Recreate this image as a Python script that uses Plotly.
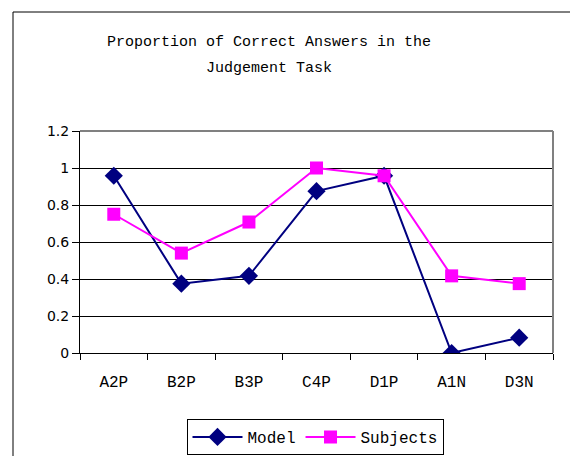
import plotly.graph_objects as go

categories = ["A2P", "B2P", "B3P", "C4P", "D1P", "A1N", "D3N"]
model = [0.958, 0.375, 0.417, 0.875, 0.958, 0.0, 0.083]
subjects = [0.75, 0.54, 0.708, 1.0, 0.958, 0.417, 0.375]
ytick_vals = [0, 0.2, 0.4, 0.6, 0.8, 1.0, 1.2]
ytick_text = ["0", "0.2", "0.4", "0.6", "0.8", "1", "1.2"]
title_lines = ["Proportion of Correct Answers in the", "Judgement Task"]

fig = go.Figure()
fig.add_trace(go.Scatter(
    x=categories, y=model, name="Model", mode="lines+markers",
    line=dict(color="#000080", width=2),
    marker=dict(symbol="diamond", size=14, color="#000080"),
))
fig.add_trace(go.Scatter(
    x=categories, y=subjects, name="Subjects", mode="lines+markers",
    line=dict(color="#FF00FF", width=2),
    marker=dict(symbol="square", size=13, color="#FF00FF"),
))

W, H = 570, 456
L, R, T, B = 80, 17, 131, 103
pw, ph = W - L - R, H - T - B

def px_x(p):
    return (p - L) / pw

def px_y(p):
    return (H - B - p) / ph

mono = "Liberation Mono"

fig.update_layout(
    width=W, height=H,
    margin=dict(l=L, r=R, t=T, b=B, autoexpand=False),
    paper_bgcolor="white", plot_bgcolor="white",
    font=dict(family="DejaVu Sans", size=14, color="black"),
    showlegend=True,
    legend=dict(
        orientation="h", x=px_x(315), xanchor="center", y=px_y(437), yanchor="middle",
        bordercolor="black", borderwidth=1, bgcolor="white",
        font=dict(family=mono, size=16, color="black"),
        itemwidth=50,
    ),
    xaxis=dict(
        type="category", range=[-0.5, 6.5],
        showline=True, linecolor="black", linewidth=1,
        ticks="outside", ticklen=6, tickcolor="black", tickson="boundaries",
        showgrid=False, tickfont=dict(family=mono, size=16),
        ticklabelstandoff=14, automargin=False,
        fixedrange=True,
    ),
    yaxis=dict(
        range=[0, 1.2], tickvals=ytick_vals, ticktext=ytick_text,
        showline=True, linecolor="black", linewidth=1,
        ticks="outside", ticklen=7, tickcolor="black",
        showgrid=True, gridcolor="black", gridwidth=1,
        zeroline=False, tickfont=dict(family="DejaVu Sans", size=14),
        automargin=False, fixedrange=True,
    ),
)

for line, ypx in zip(title_lines, [42, 68]):
    fig.add_annotation(
        text=line, xref="paper", yref="paper",
        x=px_x(269), y=px_y(ypx), xanchor="center", yanchor="middle",
        showarrow=False, font=dict(family=mono, size=15, color="black"),
    )

# outer chart frame and grey plot-area border
fig.add_shape(type="rect", xref="paper", yref="paper",
              x0=px_x(13), x1=px_x(580), y0=px_y(470), y1=px_y(12),
              line=dict(color="black", width=1), layer="below")
fig.add_shape(type="line", xref="paper", yref="paper",
              x0=1, x1=1, y0=0, y1=1, line=dict(color="#808080", width=2))
fig.add_shape(type="line", xref="paper", yref="paper",
              x0=0, x1=1, y0=1, y1=1, line=dict(color="#808080", width=2))

fig.write_html("out.html", config={"displayModeBar": False},
               post_script="document.body.style.margin='0';")
